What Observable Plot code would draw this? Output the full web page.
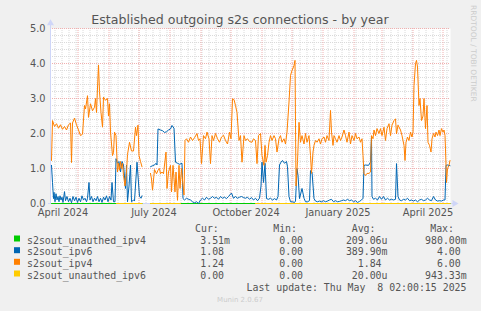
<!DOCTYPE html>
<html><head><meta charset="utf-8">
<script src="https://cdn.jsdelivr.net/npm/d3@7"></script>
<script src="https://cdn.jsdelivr.net/npm/@observablehq/plot@0.6"></script>
<style>
html,body{margin:0;padding:0;background:#f0f0f0;}
#chart{width:481px;height:311px;overflow:hidden;}
</style></head><body><div id="chart"></div>
<script>
const title = "Established outgoing s2s connections - by year";
const seriesNames = ["s2sout_unauthed_ipv4","s2sout_ipv6","s2sout_ipv4","s2sout_unauthed_ipv6"];
const seriesColors = ["#00CC00","#0066B3","#FF8000","#FFCC00"];
const curVals = ["3.51m","1.08","1.24","0.00"];
const minVals = ["0.00","0.00","0.00","0.00"];
const avgVals = ["209.06u","389.90m","1.84","20.00u"];
const maxVals = ["980.00m","4.00","6.00","943.33m"];
const colHeaders = ["Cur:","Min:","Avg:","Max:"];
const lastUpdate = "Last update: Thu May  8 02:00:15 2025";
const footer = "Munin 2.0.67";
const sideText = "RRDTOOL / TOBI OETIKER";
const yTicks = [0,1,2,3,4,5];
const xTickLabels = ["April 2024","July 2024","October 2024","January 2025","April 2025"];
const xTickMonths = ["2024-04-01","2024-07-01","2024-10-01","2025-01-01","2025-04-01"];
const windowStart = "2024-04-03T12:00:00Z";
const windowDays = 400;

// [day since window start, value]
const unauthIpv4 = [[1,0],[91.5,0],[95,null],[100,0],[399.5,0]];
const unauthIpv6 = [[66,0],[91.5,0],[95,null],[100,0],[130,0],[150,null],[205,0],[399.5,0]];
const ipv6 = [[1,1.09],[2,0.6],[3,0.14],[3.5,0.32],[4.5,0.05],[5.5,0.28],[6.5,0.1],[7.5,0.2],[8.5,0.05],[9.5,0.22],[10.5,0.1],[11.5,0.18],[12.5,0.03],[14,0.34],[15,0.08],[16.5,0.2],[18,0.05],[19.5,0.15],[21,0.02],[22.5,0.2],[24,0.08],[25.5,0.18],[27,0.03],[28.5,0.15],[30,0.05],[31.5,0.22],[33,0.1],[34.5,0.15],[36,0.05],[37,0.15],[38.5,0.6],[39.5,0.1],[41,0.2],[42.5,0.05],[44,0.15],[45.5,0.08],[47,0.2],[48.5,0.05],[50,0.15],[51.5,0.03],[53,0.18],[54.5,0.1],[56,0.22],[57.5,0.05],[59,0.2],[60.5,0.1],[61.5,0.6],[63,0.05],[64.5,0.05],[65.5,1.28],[67,1.15],[68.5,1.2],[70,0.9],[71.5,1.2],[73,1.1],[75,0.43],[76,1.1],[77,0.05],[78.5,0.5],[80,1.1],[81,0.05],[83,0.1],[84,0.07],[86.5,1.18],[89,0.2],[90.5,0.15],[91.5,0.22],
[95,null],
[100,1.05],[102,1.08],[104,1.1],[105.5,1.15],[106.5,1.1],[107.5,2.13],[110,2.1],[112,2.08],[114,2.03],[116,2.05],[118,2.1],[120,2.13],[121.5,2.23],[123.5,2.15],[125,1.18],[127,1.15],[129,1.12],[131.5,1.15],[132.5,0.14],[134,0.1],[136,0.15],[138,0.12],[140,0.1],[142,0.05],[144,0.02],[146,0.05],[148,0.0],[150,0.1],[152,0.15],[154,0.1],[156,0.18],[158,0.12],[160,0.15],[162,0.2],[164,0.15],[166,0.18],[168,0.12],[170,0.2],[172,0.15],[174,0.18],[176,0.14],[178,0.2],[181,0.3],[183,0.15],[185,0.2],[187,0.15],[189,0.18],[191,0.2],[193,0.17],[195,0.15],[197,0.18],[199,0.12],[201,0.17],[203,0.1],[205,0.15],[207,0.08],[209,0.15],[210.5,0.5],[211.5,1.18],[213,0.6],[214.5,1.15],[216,0.14],[218,0.12],[220,0.15],[222,0.1],[224,0.14],[226,0.1],[227.5,0.2],[229,1.1],[230.5,1.18],[232,1.23],[234,1.15],[236,1.2],[237,1.05],[238.5,0.2],[240,0.05],[242,0.05],[244,0.03],[245,0.07],[246.5,1.0],[247.5,0.8],[249,0.14],[251.5,0.43],[253.5,0.15],[255,0.05],[257,0.05],[259,0.08],[260,0.94],[261.5,0.9],[263.5,0.14],[265,0.07],[267,0.05],[269,0.07],[271,0.05],[273,0.08],[275,0.05],[277,0.07],[279,0.1],[281,0.12],[283,0.05],[285,0.08],[287,0.05],[289,0.06],[291,0.08],[293,0.1],[295,0.08],[297,0.12],[299,0.08],[301,0.1],[303,0.05],[305,0.08],[307,0.03],[309,0.06],[311,0.1],[312.5,0.15],[313.5,1.09],[315,1.1],[318,1.09],[320,1.18],[321,1.9],[321.5,0.2],[323,0.12],[325,0.15],[327,0.1],[329,0.2],[331,0.12],[333,0.2],[335,0.1],[337,0.15],[339,0.1],[341,0.12],[343,0.1],[345,0.12],[346,1.14],[347.5,0.2],[349,0.1],[351,0.08],[353,0.12],[355,0.1],[357,0.15],[359,0.08],[361,0.1],[363,0.07],[365,0.1],[367,0.05],[369,0.1],[371,0.12],[373,0.08],[375,0.1],[377,0.15],[379,0.1],[381,0.08],[383,0.2],[385,0.1],[387,0.07],[389,0.08],[391,0.07],[393,0.1],[394.5,0.1],[395.5,1.09],[397,1.1],[399.5,1.08]];
const ipv4 = [[1,1.23],[2,2.37],[4,2.2],[6,2.28],[8,2.15],[10,2.25],[12,2.12],[14,2.2],[16,2.1],[18,2.25],[20,2.3],[21,1.17],[22,2.3],[24,2.44],[26,2.25],[28,2.1],[30,1.94],[32,1.98],[34,2.8],[35,2.7],[37,3.08],[38,2.46],[40,2.85],[42,2.65],[44,2.75],[45,3.0],[46,2.6],[47,3.3],[48,3.96],[49,3.2],[50.5,2.6],[52,2.18],[53,3.04],[55,2.95],[57,3.0],[58,2.5],[59,2.85],[60,2.04],[62,1.37],[63,1.45],[64,2.04],[65.5,1.94],[67,0.9],[68,1.15],[69,0.95],[70,1.2],[71,1.0],[72,1.15],[73,0.8],[74.5,0.5],[76,0.9],[77,1.4],[79,1.75],[81,1.5],[83,1.5],[85,2.18],[86,1.94],[87.5,2.24],[88.5,1.37],[90,1.2],[91.5,1.05],
[95,null],
[100,0.86],[101,0.7],[102,0.38],[104,0.97],[106,0.85],[107.5,0.95],[109,1.0],[110,0.85],[111.5,0.9],[113,0.85],[115.5,1.47],[116.5,0.43],[118,0.9],[120,1.09],[121,0.33],[122.5,1.09],[124.5,0.33],[125.5,0.9],[127,0.09],[128.5,1.09],[129.5,0.43],[131,1.0],[132.5,0.52],[133.5,0.24],[134.5,1.8],[136,1.85],[138,1.75],[140,1.9],[142,1.8],[144,1.88],[146.5,2.0],[148,1.8],[149.5,1.85],[151,1.14],[153,1.94],[155,1.85],[156.5,2.04],[158.5,1.85],[160,1.14],[161.5,1.94],[163,1.8],[165,2.0],[167,1.85],[169,1.75],[171,1.9],[173,1.95],[175,1.8],[177,1.7],[179,2.04],[180.5,1.85],[182,2.99],[183.5,2.97],[185,2.8],[186.5,2.6],[188.5,1.8],[190,1.94],[191.5,1.18],[193.5,1.94],[195,1.8],[197,1.85],[199,1.77],[201.5,1.75],[203,1.85],[205,1.8],[206.5,1.14],[208,1.94],[210,2.0],[211.5,1.37],[213.5,1.09],[214.5,1.66],[215.5,1.18],[217,1.37],[218.5,1.75],[220,1.94],[221.5,1.8],[223.5,1.94],[225,1.85],[226.5,1.47],[228.5,1.85],[230,1.94],[231.5,1.75],[233.5,1.85],[235,1.7],[236.5,2.04],[238.5,2.9],[240,3.66],[241.5,3.8],[243.5,3.94],[244.5,4.09],[245.5,0.5],[247,1.2],[248.5,2.32],[250,1.75],[251.5,1.94],[253.5,1.7],[255,2.0],[256.5,1.75],[258.5,1.94],[260,1.37],[261,0.86],[262.5,1.47],[263.5,1.66],[265,1.8],[266.5,1.75],[268.5,1.85],[270,1.7],[271.5,1.85],[273.5,1.9],[275,1.75],[276.5,1.94],[278.5,1.8],[280,2.66],[281,2.04],[282.5,1.66],[283.5,1.94],[285,1.85],[286.5,1.75],[288.5,1.94],[290,1.8],[291.5,1.9],[293.5,2.1],[295,1.94],[296.5,1.75],[298.5,2.04],[300,1.7],[301.5,1.94],[303.5,1.8],[305,2.0],[306.5,1.85],[308.5,1.9],[310,1.75],[311.5,1.85],[312.5,1.37],[313.5,0.86],[315,0.8],[316.5,0.86],[318.5,0.86],[320,0.9],[321,1.94],[322.5,1.85],[323.5,2.1],[325,1.94],[326.5,2.14],[328.5,2.0],[330,2.14],[331.5,1.94],[333.5,2.18],[335,1.8],[336.5,2.14],[338.5,2.28],[340,1.94],[341.5,2.24],[343.5,2.37],[345,2.42],[346,1.99],[347.5,2.24],[350,2.1],[351.5,1.94],[353.5,1.66],[354.5,1.23],[355.5,1.75],[357,1.9],[358.5,1.8],[360,2.04],[361.5,1.9],[362.5,2.04],[363.5,3.37],[365,4.0],[366,4.09],[367,3.9],[368.5,2.8],[369.5,3.0],[371,2.37],[372.5,2.5],[373.5,3.0],[375,2.14],[376.5,2.8],[377.5,1.75],[379,1.66],[380.5,1.47],[381.5,1.85],[383,2.0],[384.5,1.9],[385.5,2.04],[387,1.94],[388.5,2.1],[389.5,1.94],[391,2.14],[392.5,2.04],[393.5,2.1],[394.5,1.94],[395,1.56],[396,0.6],[397,1.0],[398.5,1.09],[399.5,1.23]];

const seriesData = [unauthIpv4, ipv6, ipv4, unauthIpv6];

const DAY = 864e5;
const t0 = new Date(windowStart);
const t1 = new Date(+t0 + windowDays * DAY);
const toRows = arr => arr.map(([d, v]) => ({t: new Date(+t0 + d * DAY), v}));

const axisColor = "#CFD6F8";
const minorColor = "#dadada";
const majorColor = "#f0b0b0";
const textColor = "#555555";

const monthLines = d3.utcMonth.range(d3.utcMonth.ceil(t0), t1);
const weekLines = d3.utcMonday.range(t0, t1);
const minorY = d3.range(1, 25).map(i => i / 5).filter(v => Math.abs(v - Math.round(v)) > 1e-6);
const majorY = yTicks.filter(v => v > 0);
const xLabelRows = xTickMonths.map((m, i) => ({t: new Date(+new Date(m + "T00:00:00Z") + 15 * DAY), label: xTickLabels[i]}));

const W = 481, H = 311;
const plot = Plot.plot({
  width: W, height: H,
  marginLeft: 50, marginRight: 31, marginTop: 28, marginBottom: 108,
  style: {background: "#f0f0f0", fontFamily: "DejaVu Sans", fontSize: "9.8px", color: textColor, overflow: "visible"},
  x: {type: "utc", domain: [t0, t1], axis: null},
  y: {domain: [0, 5], axis: null},
  marks: [
    Plot.frame({fill: "white", stroke: null}),
    Plot.ruleX(weekLines, {y1: 0, y2: 5, stroke: minorColor, strokeDasharray: "1,1"}),
    Plot.ruleY(minorY, {x1: t0, x2: t1, stroke: minorColor, strokeDasharray: "1,1"}),
    Plot.ruleX(monthLines, {y1: 0, y2: 5, stroke: majorColor, strokeDasharray: "1,1"}),
    Plot.ruleY(majorY, {x1: t0, x2: t1, stroke: majorColor, strokeDasharray: "1,1"}),
    Plot.ruleY([0], {x1: new Date(+t0 - 2 * DAY), x2: new Date(+t0 + 403 * DAY), stroke: axisColor}),
    Plot.ruleX([t0], {y1: 0, y2: 5.12, stroke: axisColor}),
    ...seriesData.map((s, i) => Plot.line(toRows(s), {x: "t", y: "v", stroke: seriesColors[i], strokeWidth: 1})),
    Plot.dot([{t: new Date(+t0 + 404 * DAY), v: 0}], {x: "t", y: "v", symbol: "triangle", r: 2.6, fill: axisColor, stroke: null, rotate: 90}),
    Plot.dot([{t: t0, v: 5.15}], {x: "t", y: "v", symbol: "triangle", r: 2.6, fill: axisColor, stroke: null}),
    Plot.axisY(yTicks, {tickFormat: d => d.toFixed(1), tickSize: 0, tickPadding: 5, fill: textColor, label: null}),
    Plot.text(xLabelRows, {x: "t", y: () => 0, text: "label", dy: 9.5, fill: textColor, lineAnchor: "middle"})
  ]
});

const svg = d3.select(plot);
svg.append("text").attr("x", 240).attr("y", 23.5).attr("text-anchor", "middle")
  .attr("font-family", "DejaVu Sans").attr("font-size", 12.6).attr("fill", textColor).text(title);
svg.append("text").attr("transform", "translate(473.5,5) rotate(90)").attr("text-anchor", "start").attr("dominant-baseline", "central")
  .attr("font-family", "DejaVu Sans").attr("font-size", 7.5).attr("fill", "#cccccc").text(sideText);

const mono = "DejaVu Sans Mono", mfs = 9.9, cw = 0.602 * mfs;
const headerRight = [218.8, 297, 375.5, 454];
const colRight = [230, 309, 387.5, 466.7];
const rowY = [240, 251.7, 263.3, 275];
const g = svg.append("g").attr("font-family", mono).attr("font-size", mfs).attr("fill", textColor).attr("dominant-baseline", "central");
colHeaders.forEach((h, j) => g.append("text").attr("x", headerRight[j]).attr("y", 228).attr("text-anchor", "end").text(h));
const cols = [curVals, minVals, avgVals, maxVals];
seriesNames.forEach((name, i) => {
  svg.append("rect").attr("x", 14).attr("y", rowY[i] - 4.5).attr("width", 6).attr("height", 6).attr("fill", seriesColors[i]);
  g.append("text").attr("x", 27).attr("y", rowY[i]).attr("text-anchor", "start").text(name);
  cols.forEach((col, j) => {
    const s = col[i];
    const hasUnit = /[a-z]$/i.test(s);
    g.append("text").attr("x", colRight[j] - (hasUnit ? 0 : cw)).attr("y", rowY[i]).attr("text-anchor", "end").text(s);
  });
});
g.append("text").attr("x", 466.5).attr("y", 287.5).attr("text-anchor", "end").attr("xml:space", "preserve").style("white-space", "pre").text(lastUpdate);
svg.append("text").attr("x", 240).attr("y", 300).attr("text-anchor", "middle").attr("dominant-baseline", "central")
  .attr("font-family", "DejaVu Sans").attr("font-size", 7).attr("fill", "#cccccc").text(footer);

document.getElementById("chart").appendChild(plot);
</script></body></html>
